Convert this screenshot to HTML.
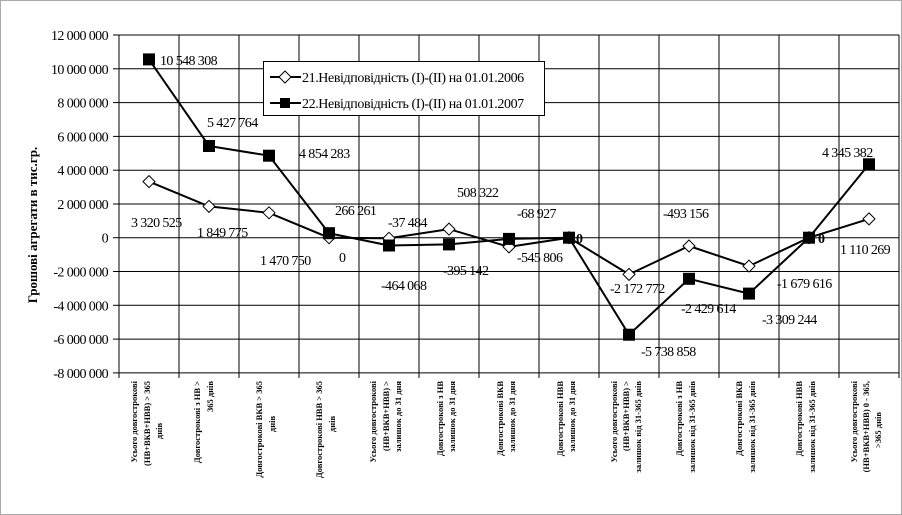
<!DOCTYPE html>
<html><head><meta charset="utf-8"><style>
html,body{margin:0;padding:0;background:#fff}
svg{display:block}
text{font-family:"Liberation Serif","DejaVu Serif",serif}
</style></head><body>
<svg width="902" height="515" viewBox="0 0 902 515" xmlns="http://www.w3.org/2000/svg">
<rect x="0.5" y="0.5" width="901" height="514" fill="#fff" stroke="#aaa"/>
<g stroke="#000" stroke-width="1">
<line x1="119" y1="35" x2="899" y2="35"/>
<line x1="119" y1="68.8" x2="899" y2="68.8"/>
<line x1="119" y1="102.6" x2="899" y2="102.6"/>
<line x1="119" y1="136.4" x2="899" y2="136.4"/>
<line x1="119" y1="170.2" x2="899" y2="170.2"/>
<line x1="119" y1="204" x2="899" y2="204"/>
<line x1="119" y1="237.7" x2="899" y2="237.7"/>
<line x1="119" y1="271.5" x2="899" y2="271.5"/>
<line x1="119" y1="305.3" x2="899" y2="305.3"/>
<line x1="119" y1="339.1" x2="899" y2="339.1"/>
<line x1="119" y1="372.9" x2="899" y2="372.9"/>
<line x1="113" y1="35" x2="119" y2="35"/><line x1="113" y1="68.8" x2="119" y2="68.8"/><line x1="113" y1="102.6" x2="119" y2="102.6"/><line x1="113" y1="136.4" x2="119" y2="136.4"/><line x1="113" y1="170.2" x2="119" y2="170.2"/><line x1="113" y1="204" x2="119" y2="204"/><line x1="113" y1="237.7" x2="119" y2="237.7"/><line x1="113" y1="271.5" x2="119" y2="271.5"/><line x1="113" y1="305.3" x2="119" y2="305.3"/><line x1="113" y1="339.1" x2="119" y2="339.1"/><line x1="113" y1="372.9" x2="119" y2="372.9"/>
<line x1="119" y1="35" x2="119" y2="378"/><line x1="179" y1="35" x2="179" y2="378"/><line x1="239" y1="35" x2="239" y2="378"/><line x1="299" y1="35" x2="299" y2="378"/><line x1="359" y1="35" x2="359" y2="378"/><line x1="419" y1="35" x2="419" y2="378"/><line x1="479" y1="35" x2="479" y2="378"/><line x1="539" y1="35" x2="539" y2="378"/><line x1="599" y1="35" x2="599" y2="378"/><line x1="659" y1="35" x2="659" y2="378"/><line x1="719" y1="35" x2="719" y2="378"/><line x1="779" y1="35" x2="779" y2="378"/><line x1="839" y1="35" x2="839" y2="378"/><line x1="899" y1="35" x2="899" y2="378"/>
</g>
<g font-size="14" text-anchor="end" letter-spacing="-0.6">
<text x="108" y="40">12 000 000</text><text x="108" y="73.8">10 000 000</text><text x="108" y="107.6">8 000 000</text><text x="108" y="141.4">6 000 000</text><text x="108" y="175.2">4 000 000</text><text x="108" y="209">2 000 000</text><text x="108" y="242.7">0</text><text x="108" y="276.5">-2 000 000</text><text x="108" y="310.3">-4 000 000</text><text x="108" y="344.1">-6 000 000</text><text x="108" y="377.9">-8 000 000</text>
</g>
<text transform="translate(37,225) rotate(-90)" font-size="13" font-weight="bold" text-anchor="middle">Грошові агрегати в тис.гр.</text>
<polyline fill="none" stroke="#000" stroke-width="2" points="149,181.6 209,206.4 269,212.8 329,237.7 389,238.3 449,229.1 509,246.9 569,237.7 629,274.4 689,246 749,266.1 809,237.7 869,218.9"/>
<polyline fill="none" stroke="#000" stroke-width="2" points="149,59.4 209,146 269,155.7 329,233.2 389,245.5 449,244.4 509,238.9 569,237.7 629,334.7 689,278.8 749,293.6 809,237.7 869,164.3"/>
<g fill="#fff" stroke="#000" stroke-width="1">
<path d="M149,175.6 l6,6 -6,6 -6,-6z"/><path d="M209,200.4 l6,6 -6,6 -6,-6z"/><path d="M269,206.8 l6,6 -6,6 -6,-6z"/><path d="M329,231.7 l6,6 -6,6 -6,-6z"/><path d="M389,232.3 l6,6 -6,6 -6,-6z"/><path d="M449,223.1 l6,6 -6,6 -6,-6z"/><path d="M509,240.9 l6,6 -6,6 -6,-6z"/><path d="M569,231.7 l6,6 -6,6 -6,-6z"/><path d="M629,268.4 l6,6 -6,6 -6,-6z"/><path d="M689,240 l6,6 -6,6 -6,-6z"/><path d="M749,260.1 l6,6 -6,6 -6,-6z"/><path d="M809,231.7 l6,6 -6,6 -6,-6z"/><path d="M869,212.9 l6,6 -6,6 -6,-6z"/>
</g>
<g fill="#000">
<rect x="143" y="53.4" width="12" height="12"/><rect x="203" y="140" width="12" height="12"/><rect x="263" y="149.7" width="12" height="12"/><rect x="323" y="227.2" width="12" height="12"/><rect x="383" y="239.5" width="12" height="12"/><rect x="443" y="238.4" width="12" height="12"/><rect x="503" y="232.9" width="12" height="12"/><rect x="563" y="231.7" width="12" height="12"/><rect x="623" y="328.7" width="12" height="12"/><rect x="683" y="272.8" width="12" height="12"/><rect x="743" y="287.6" width="12" height="12"/><rect x="803" y="231.7" width="12" height="12"/><rect x="863" y="158.3" width="12" height="12"/>
</g>
<g font-size="14" letter-spacing="-0.6">
<text x="160" y="65">10 548 308</text>
<text x="207" y="127">5 427 764</text>
<text x="299" y="158">4 854 283</text>
<text x="335" y="215">266 261</text>
<text x="339" y="262">0</text>
<text x="131" y="227">3 320 525</text>
<text x="197" y="237">1 849 775</text>
<text x="260" y="265">1 470 750</text>
<text x="388" y="227">-37 484</text>
<text x="457" y="197">508 322</text>
<text x="517" y="218">-68 927</text>
<text x="381" y="290">-464 068</text>
<text x="443" y="275">-395 142</text>
<text x="517" y="262">-545 806</text>
<text x="576" y="243" font-weight="bold">0</text>
<text x="610" y="293">-2 172 772</text>
<text x="641" y="356">-5 738 858</text>
<text x="663" y="218">-493 156</text>
<text x="681" y="313">-2 429 614</text>
<text x="762" y="324">-3 309 244</text>
<text x="777" y="288">-1 679 616</text>
<text x="818" y="243" font-weight="bold">0</text>
<text x="822" y="157">4 345 382</text>
<text x="840" y="254">1 110 269</text>
</g>
<rect x="263.5" y="61.5" width="281" height="54" fill="#fff" stroke="#000"/>
<line x1="270" y1="77" x2="301" y2="77" stroke="#000" stroke-width="2"/>
<path d="M285,71 l6,6 -6,6 -6,-6z" fill="#fff" stroke="#000"/>
<line x1="270" y1="103" x2="301" y2="103" stroke="#000" stroke-width="2"/>
<rect x="280" y="98" width="10" height="10" fill="#000"/>
<text x="302" y="82" font-size="14" letter-spacing="-0.4">21.Невідповідність (I)-(II) на 01.01.2006</text>
<text x="302" y="108" font-size="14" letter-spacing="-0.4">22.Невідповідність (I)-(II) на 01.01.2007</text>
<g font-size="8.5" font-weight="bold" text-anchor="end">
<text transform="translate(137,381) rotate(-90)">Усього довгострокові</text>
<text transform="translate(150,381) rotate(-90)">(НВ+ВКВ+НВВ) &gt; 365</text>
<text transform="translate(162,431) rotate(-90)" text-anchor="middle">днів</text>
<text transform="translate(200,381) rotate(-90)">Довгострокові з НВ &gt;</text>
<text transform="translate(213,381) rotate(-90)">365 днів</text>
<text transform="translate(262,381) rotate(-90)">Довгострокові ВКВ &gt; 365</text>
<text transform="translate(275,424) rotate(-90)" text-anchor="middle">днів</text>
<text transform="translate(322,381) rotate(-90)">Довгострокові НВВ &gt; 365</text>
<text transform="translate(335,424) rotate(-90)" text-anchor="middle">днів</text>
<text transform="translate(376,381) rotate(-90)">Усього довгострокові</text>
<text transform="translate(389,381) rotate(-90)">(НВ+ВКВ+НВВ) &gt;</text>
<text transform="translate(401,381) rotate(-90)">залишок до 31 дня</text>
<text transform="translate(443,381) rotate(-90)">Довгострокові з НВ</text>
<text transform="translate(455,381) rotate(-90)">залишок до 31 дня</text>
<text transform="translate(503,381) rotate(-90)">Довгострокові ВКВ</text>
<text transform="translate(515,381) rotate(-90)">залишок до 31 дня</text>
<text transform="translate(563,381) rotate(-90)">Довгострокові НВВ</text>
<text transform="translate(575,381) rotate(-90)">залишок до 31 дня</text>
<text transform="translate(617,381) rotate(-90)">Усього довгострокові</text>
<text transform="translate(629,381) rotate(-90)">(НВ+ВКВ+НВВ) &gt;</text>
<text transform="translate(641,381) rotate(-90)">залишок від 31-365 днів</text>
<text transform="translate(682,381) rotate(-90)">Довгострокові з НВ</text>
<text transform="translate(695,381) rotate(-90)">залишок від 31-365 днів</text>
<text transform="translate(742,381) rotate(-90)">Довгострокові ВКВ</text>
<text transform="translate(755,381) rotate(-90)">залишок від 31-365 днів</text>
<text transform="translate(802,381) rotate(-90)">Довгострокові НВВ</text>
<text transform="translate(815,381) rotate(-90)">залишок від 31-365 днів</text>
<text transform="translate(857,381) rotate(-90)">Усього довгострокові</text>
<text transform="translate(869,381) rotate(-90)">(НВ+ВКВ+НВВ) 0 - 365,</text>
<text transform="translate(881,430) rotate(-90)" text-anchor="middle">&gt;365 днів</text>
</g>
</svg>
</body></html>
